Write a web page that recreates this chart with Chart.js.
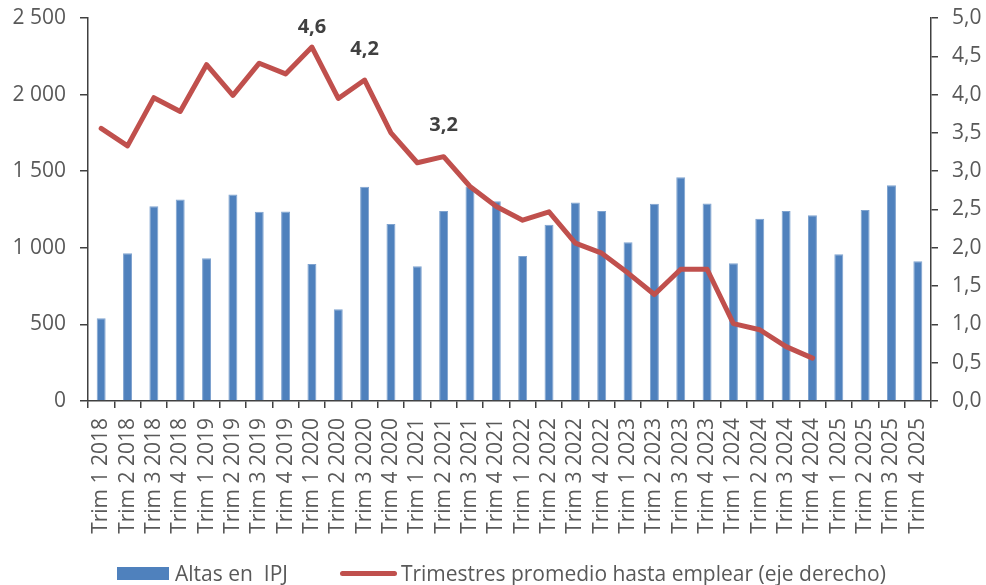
<!DOCTYPE html>
<html>
<head>
<meta charset="utf-8">
<script src="https://cdn.jsdelivr.net/npm/chart.js@4/dist/chart.umd.min.js"></script>
<style>
  html, body { margin: 0; padding: 0; background: #fff; }
  #wrap { position: relative; width: 986px; height: 585px; }
  #legend { position: absolute; left: 117px; top: 557px; font-family: "Open Sans", sans-serif; font-size: 21px; color: #595959; white-space: nowrap; }
  #legend span { display: inline-block; vertical-align: middle; }
  .sw-bar { width: 52px; height: 13px; background: #4F81BD; margin-right: 6px; }
  .sw-line { width: 57px; height: 5px; background: #C0504D; border-radius: 3px; margin-left: 52px; margin-right: 4px; }
</style>
</head>
<body>
<div id="wrap">
  <canvas id="chart" width="986" height="585"></canvas>
  <div id="legend"></div>
</div>
<script>
var categories = [
  "Trim 1 2018", "Trim 2 2018", "Trim 3 2018", "Trim 4 2018",
  "Trim 1 2019", "Trim 2 2019", "Trim 3 2019", "Trim 4 2019",
  "Trim 1 2020", "Trim 2 2020", "Trim 3 2020", "Trim 4 2020",
  "Trim 1 2021", "Trim 2 2021", "Trim 3 2021", "Trim 4 2021",
  "Trim 1 2022", "Trim 2 2022", "Trim 3 2022", "Trim 4 2022",
  "Trim 1 2023", "Trim 2 2023", "Trim 3 2023", "Trim 4 2023",
  "Trim 1 2024", "Trim 2 2024", "Trim 3 2024", "Trim 4 2024",
  "Trim 1 2025", "Trim 2 2025", "Trim 3 2025", "Trim 4 2025"
];

// altas en IPJ (eje izquierdo)
var altas = [
  540, 965, 1272, 1315,
  932, 1348, 1235, 1237,
  895, 599, 1398, 1156,
  880, 1241, 1400, 1304,
  947, 1150, 1296, 1241,
  1037, 1287, 1461, 1289,
  899, 1189, 1241, 1213,
  958, 1246, 1409, 912
];

// trimestres promedio hasta emplear (eje derecho)
var trimestres = [
  3.56, 3.33, 3.96, 3.78,
  4.39, 3.99, 4.41, 4.27,
  4.62, 3.95, 4.19, 3.50,
  3.11, 3.19, 2.80, 2.54,
  2.36, 2.47, 2.06, 1.93,
  1.67, 1.39, 1.72, 1.72,
  1.01, 0.93, 0.71, 0.56
];

// puntos con etiqueta
var labelIdx = [8, 10, 13];

var leftTicks = [0, 500, 1000, 1500, 2000, 2500];
var rightTicks = [0, 0.5, 1, 1.5, 2, 2.5, 3, 3.5, 4, 4.5, 5];

var seriesNames = ["Altas en  IPJ", "Trimestres promedio hasta emplear (eje derecho)"];

var textColor = "#595959";
var axisColor = "#404040";
var font = "'Open Sans', sans-serif";

function fmtMiles(v) {
  return String(v).replace(/\B(?=(\d{3})+(?!\d))/g, " ");
}
function fmtDec(v) {
  return v.toFixed(1).replace(".", ",");
}

// sin relleno extra alrededor de las escalas
function noPad(scale) {
  scale.paddingTop = 0;
  scale.paddingBottom = 0;
  scale.paddingLeft = 0;
  scale.paddingRight = 0;
}

var pointLabels = {
  id: "pointLabels",
  afterDatasetsDraw: function(chart) {
    var ctx = chart.ctx;
    var meta = chart.getDatasetMeta(1);
    ctx.save();
    ctx.font = "bold 20px " + font;
    ctx.fillStyle = axisColor;
    ctx.textAlign = "center";
    ctx.textBaseline = "middle";
    labelIdx.forEach(function(i) {
      var pt = meta.data[i];
      var y = Math.max(pt.y - 31, 27);
      ctx.fillText(fmtDec(trimestres[i]), pt.x, y);
    });
    ctx.restore();
  }
};

var ctx = document.getElementById("chart").getContext("2d");
var myChart = new Chart(ctx, {
  type: "bar",
  data: {
    labels: categories,
    datasets: [
      {
        label: seriesNames[0],
        data: altas,
        backgroundColor: "#4F81BD",
        borderColor: "#7FA3CF",
        borderWidth: { left: 1, right: 1, top: 1, bottom: 0 },
        barPercentage: 0.34,
        categoryPercentage: 1,
        yAxisID: "y",
        order: 1
      },
      {
        type: "line",
        label: seriesNames[1],
        data: trimestres,
        borderColor: "#C0504D",
        backgroundColor: "#C0504D",
        borderWidth: 5,
        borderCapStyle: "round",
        borderJoinStyle: "round",
        pointRadius: 0,
        tension: 0,
        yAxisID: "y1",
        order: 0
      }
    ]
  },
  options: {
    responsive: false,
    animation: false,
    layout: { padding: { top: 18, left: 0, right: 0, bottom: 0 } },
    plugins: {
      legend: { display: false },
      tooltip: { enabled: false }
    },
    scales: {
      x: {
        grid: { drawOnChartArea: false, tickLength: 7, color: axisColor, lineWidth: 1.5, offset: true },
        border: { display: true, color: axisColor, width: 1.5 },
        ticks: { color: textColor, font: { family: font, size: 21 }, minRotation: 90, maxRotation: 90, autoSkip: false, padding: 10 },
        afterFit: function(scale) { scale.height = 184; noPad(scale); }
      },
      y: {
        position: "left",
        min: 0,
        max: 2500,
        afterBuildTicks: function(scale) { scale.ticks = leftTicks.map(function(v) { return { value: v }; }); },
        grid: { drawOnChartArea: false, tickLength: 8, color: axisColor, lineWidth: 1.5 },
        border: { display: true, color: axisColor, width: 1.5 },
        ticks: { color: textColor, font: { family: font, size: 21 }, padding: 14, callback: function(v) { return fmtMiles(v); } },
        afterFit: function(scale) { scale.width = 88; noPad(scale); }
      },
      y1: {
        position: "right",
        min: 0,
        max: 5,
        afterBuildTicks: function(scale) { scale.ticks = rightTicks.map(function(v) { return { value: v }; }); },
        grid: { drawOnChartArea: false, tickLength: 7, color: axisColor, lineWidth: 1.5 },
        border: { display: true, color: axisColor, width: 1.5 },
        ticks: { color: textColor, font: { family: font, size: 21 }, padding: 14, callback: function(v) { return fmtDec(v); } },
        afterFit: function(scale) { scale.width = 55; noPad(scale); }
      }
    }
  },
  plugins: [pointLabels]
});

var legend = document.getElementById("legend");
legend.innerHTML =
  '<span class="sw-bar"></span><span>' + seriesNames[0].replace(/  /g, " &nbsp;") + '</span>' +
  '<span class="sw-line"></span><span>' + seriesNames[1] + '</span>';
</script>
</body>
</html>
